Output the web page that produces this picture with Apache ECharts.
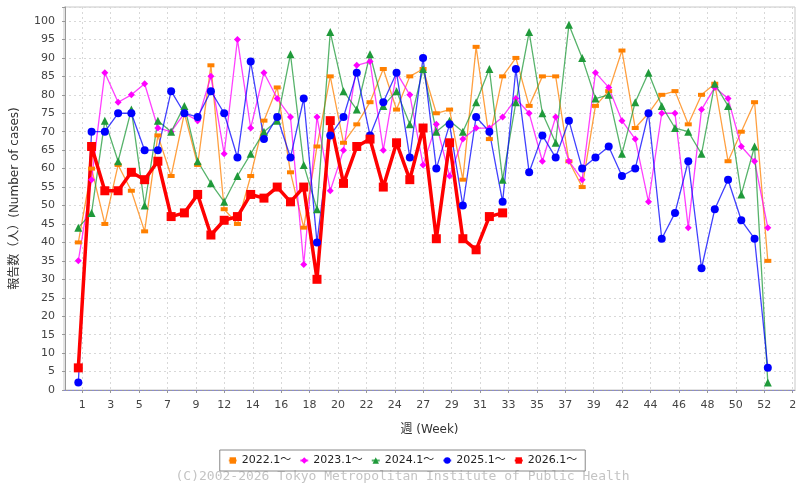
<!DOCTYPE html>
<html>
<head>
<meta charset="utf-8">
<title>報告数</title>
<script src="https://cdn.jsdelivr.net/npm/echarts@6/dist/echarts.min.js"></script>
<style>
    html, body { margin: 0; padding: 0; background: #fff; }
    #chart { width: 805px; height: 485px; }
</style>
</head>
<body>
<div id="chart"></div>
<script>
// 週番号（各シリーズ共通）
const weeks = [];
for (let i = 1; i <= 53; i++) weeks.push(i);

// 各年の報告数
const cases2022 = [40, 60, 45, 61, 54, 43, 69, 58, 75, 61, 88, 49, 45, 58, 73, 82, 59, 44, 66, 85,
    67, 72, 78, 87, 76, 85, 87, 75, 76, 57, 93, 68, 85, 90, 77, 85, 85, 62, 55, 77,
    81, 92, 71, 75, 80, 81, 72, 80, 83, 62, 70, 78, 35];
const cases2023 = [35, 57, 86, 78, 80, 83, 71, 70, 75, 73, 85, 64, 95, 71, 86, 79, 74, 34, 74, 54,
    65, 88, 89, 65, 86, 80, 61, 72, 58, 68, 71, 71, 74, 79, 75, 62, 74, 62, 57, 86,
    82, 73, 68, 51, 75, 75, 44, 76, 82, 79, 66, 62, 44];
const cases2024 = [44, 48, 73, 62, 76, 50, 73, 70, 77, 62, 56, 51, 58, 64, 70, 73, 91, 61, 49, 97,
    81, 76, 91, 77, 81, 72, 87, 70, 73, 70, 78, 87, 57, 78, 97, 75, 67, 99, 90, 79,
    80, 64, 78, 86, 77, 71, 70, 64, 83, 77, 53, 66, 2];
const cases2025 = [2, 70, 70, 75, 75, 65, 65, 81, 75, 74, 81, 75, 63, 89, 68, 74, 63, 79, 40, 69,
    74, 86, 69, 78, 86, 63, 90, 60, 72, 50, 74, 70, 51, 87, 59, 69, 63, 73, 60, 63,
    66, 58, 60, 75, 41, 48, 62, 33, 49, 57, 46, 41, 6];
const cases2026 = [6, 66, 54, 54, 59, 57, 62, 47, 48, 53, 42, 46, 47, 53, 52, 55, 51, 55, 30, 73,
    56, 66, 68, 55, 67, 57, 71, 41, 67, 41, 38, 47, 48];

// 横軸の目盛ラベル（15日ごと）
const weekLabels = ['1', '3', '5', '7', '9', '12', '14', '16', '18', '20', '22', '24', '27',
    '29', '31', '33', '35', '37', '39', '42', '44', '46', '48', '50', '52', '2'];
const tickStart = 1.3;
const tickStep = 15 / 7;

const seriesNames = ['2022.1～', '2023.1～', '2024.1～', '2025.1～', '2026.1～'];

(function () {
    const my_chart = echarts.init(document.getElementById('chart'));
    const font = '"DejaVu Sans", "Noto Sans CJK JP", sans-serif';

    const tickValues = weekLabels.map(function (_, k) { return tickStart + k * tickStep; });

    // [週, 値] の組にする
    function pairs(arr) {
        return arr.map(function (v, i) { return [weeks[i], v]; });
    }

    const gridDash = { color: '#d8d8d8', type: [2, 3], width: 1 };

    let option = {
        animation: false,
        textStyle: { fontFamily: font },
        grid: {
            left: 64,
            right: 10,
            top: 7,
            bottom: 95,
            show: true,
            borderColor: '#c8c8c8',
            borderWidth: 1
        },
        legend: {
            bottom: 14,
            left: 'center',
            itemWidth: 8,
            itemHeight: 8,
            itemGap: 8,
            padding: [5, 8],
            borderColor: '#888',
            borderWidth: 1,
            textStyle: { fontSize: 11, color: '#222', fontFamily: font },
            data: seriesNames
        },
        graphic: [{
            type: 'text',
            left: 'center',
            top: 470,
            style: {
                text: '(C)2002-2026 Tokyo Metropolitan Institute of Public Health',
                fill: '#c4c4c4',
                font: '13px "DejaVu Sans Mono", monospace'
            }
        }],
        xAxis: {
            type: 'value',
            min: -0.08,
            max: 55.05,
            offset: 4,
            name: '週 (Week)',
            nameLocation: 'middle',
            nameGap: 30,
            nameTextStyle: { fontSize: 12, color: '#333' },
            axisLine: { show: true, lineStyle: { color: '#999' } },
            axisTick: { show: true, length: 3, customValues: tickValues, lineStyle: { color: '#999' } },
            axisLabel: {
                customValues: tickValues,
                fontSize: 11,
                color: '#444',
                margin: 6,
                formatter: function (v) {
                    const k = Math.round((v - tickStart) / tickStep);
                    return weekLabels[k] || '';
                }
            },
            splitLine: { show: true, lineStyle: gridDash }
        },
        yAxis: {
            type: 'value',
            min: 0,
            max: 103.8,
            interval: 5,
            offset: 5,
            name: '報告数（人）(Number of cases)',
            nameLocation: 'middle',
            nameGap: 38,
            nameTextStyle: { fontSize: 12, color: '#333' },
            axisLine: { show: true, lineStyle: { color: '#999' } },
            axisTick: { show: true, length: 3, lineStyle: { color: '#999' } },
            axisLabel: {
                fontSize: 11,
                color: '#444',
                margin: 4,
                formatter: function (v) { return v > 100 ? '' : v; }
            },
            splitLine: { show: true, lineStyle: gridDash }
        },
        series: [
            {
                name: seriesNames[0],
                type: 'line',
                data: pairs(cases2022),
                color: '#ff8000',
                symbol: 'rect',
                symbolSize: [7, 4],
                lineStyle: { width: 1.3, opacity: 0.75 },
                itemStyle: { color: '#ff8000' },
                markLine: {
                    silent: true,
                    symbol: 'none',
                    label: { show: false },
                    lineStyle: { color: '#8a8ad0', type: [2, 2], width: 1 },
                    data: [{ yAxis: 0 }]
                }
            },
            {
                name: seriesNames[1],
                type: 'line',
                data: pairs(cases2023),
                color: '#ff00ff',
                symbol: 'diamond',
                symbolSize: 7,
                lineStyle: { width: 1.3, opacity: 0.75 },
                itemStyle: { color: '#ff00ff' }
            },
            {
                name: seriesNames[2],
                type: 'line',
                data: pairs(cases2024),
                color: '#1f9a3a',
                symbol: 'triangle',
                symbolSize: 8,
                lineStyle: { width: 1.3, opacity: 0.75 },
                itemStyle: { color: '#1f9a3a' }
            },
            {
                name: seriesNames[3],
                type: 'line',
                data: pairs(cases2025),
                color: '#0000ff',
                symbol: 'circle',
                symbolSize: 8,
                lineStyle: { width: 1.3, opacity: 0.75 },
                itemStyle: { color: '#0000ff' }
            },
            {
                name: seriesNames[4],
                type: 'line',
                data: pairs(cases2026),
                color: '#ff0000',
                symbol: 'rect',
                symbolSize: 9,
                lineStyle: { width: 3.5 },
                itemStyle: { color: '#ff0000' }
            }
        ]
    };
    my_chart.setOption(option);
})();
</script>
</body>
</html>
